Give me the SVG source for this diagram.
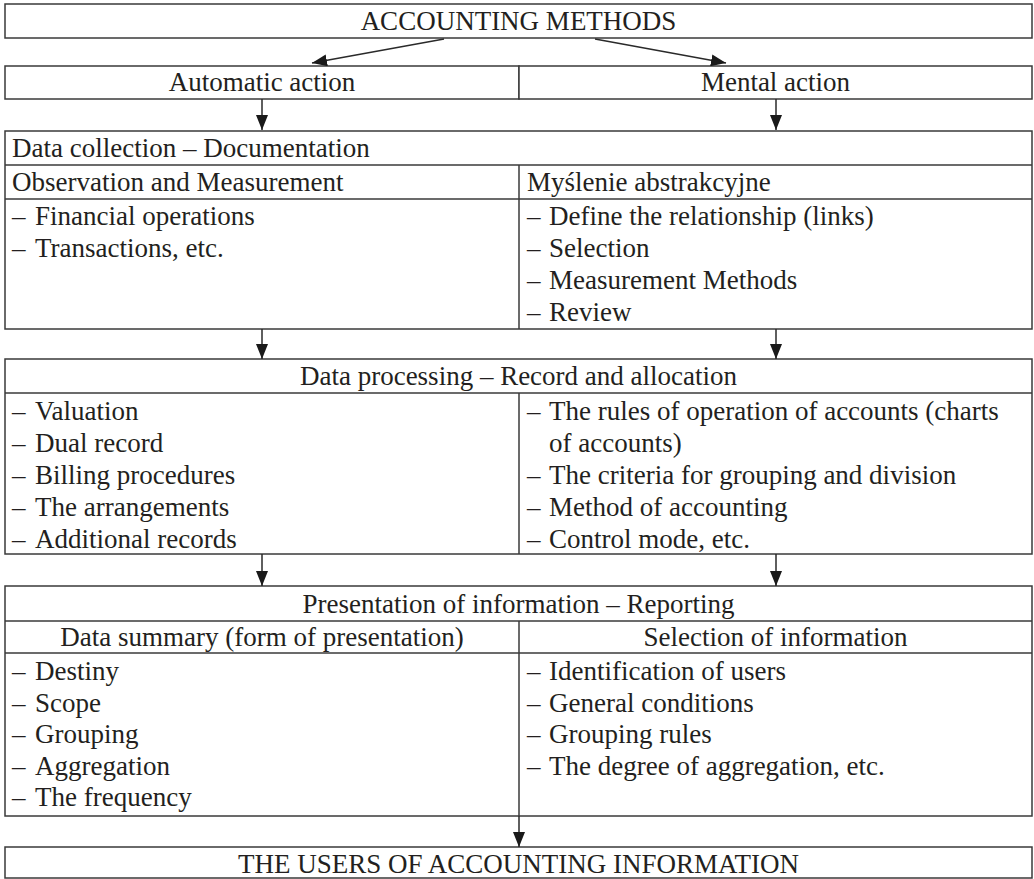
<svg xmlns="http://www.w3.org/2000/svg" width="1034" height="879" viewBox="0 0 1034 879">
<style>
.box{fill:#fff;stroke:#3a3a3a;stroke-width:1.5}
.ln{stroke:#3a3a3a;stroke-width:1.5;fill:none}
.con{stroke:#2a2a2a;stroke-width:1.5;fill:none;marker-end:url(#ah)}
text{font-family:"Liberation Serif","Times New Roman",serif;font-size:27px;fill:#231f20}
.c{text-anchor:middle}
</style>
<defs>
<marker id="ah" markerUnits="userSpaceOnUse" markerWidth="15" markerHeight="12" refX="15" refY="6" orient="auto">
<path d="M0,0 L15,6 L0,12 z" fill="#1a1a1a"/>
</marker>
</defs>
<rect width="1034" height="879" fill="#fff"/>

<g id="accounting-methods">
<rect class="box" x="5" y="4" width="1027" height="34"/>
<text class="c" x="518.5" y="30">ACCOUNTING METHODS</text>
</g>

<g id="automatic-action">
<rect class="box" x="5" y="66" width="514" height="33"/>
<text class="c" x="262" y="91">Automatic action</text>
</g>
<g id="mental-action">
<rect class="box" x="519" y="66" width="513" height="33"/>
<text class="c" x="775.5" y="91">Mental action</text>
</g>

<g id="data-collection">
<rect class="box" x="5" y="131" width="1027" height="198"/>
<line class="ln" x1="5" y1="165" x2="1032" y2="165"/>
<line class="ln" x1="5" y1="199" x2="1032" y2="199"/>
<line class="ln" x1="519" y1="165" x2="519" y2="329"/>
<text x="12" y="157">Data collection – Documentation</text>
<text x="12" y="191">Observation and Measurement</text>
<text x="527" y="191">Myślenie abstrakcyjne</text>
<text y="225"><tspan x="12">– </tspan><tspan x="35">Financial operations</tspan></text>
<text y="257"><tspan x="12">– </tspan><tspan x="35">Transactions, etc.</tspan></text>
<text y="225"><tspan x="527">– </tspan><tspan x="549">Define the relationship (links)</tspan></text>
<text y="257"><tspan x="527">– </tspan><tspan x="549">Selection</tspan></text>
<text y="289"><tspan x="527">– </tspan><tspan x="549">Measurement Methods</tspan></text>
<text y="321"><tspan x="527">– </tspan><tspan x="549">Review</tspan></text>
</g>

<g id="data-processing">
<rect class="box" x="5" y="359" width="1027" height="195"/>
<line class="ln" x1="5" y1="393" x2="1032" y2="393"/>
<line class="ln" x1="519" y1="393" x2="519" y2="554"/>
<text class="c" x="518.5" y="385">Data processing – Record and allocation</text>
<text y="420"><tspan x="12">– </tspan><tspan x="35">Valuation</tspan></text>
<text y="452"><tspan x="12">– </tspan><tspan x="35">Dual record</tspan></text>
<text y="484"><tspan x="12">– </tspan><tspan x="35">Billing procedures</tspan></text>
<text y="516"><tspan x="12">– </tspan><tspan x="35">The arrangements</tspan></text>
<text y="548"><tspan x="12">– </tspan><tspan x="35">Additional records</tspan></text>
<text y="420"><tspan x="527">– </tspan><tspan x="549">The rules of operation of accounts (charts</tspan></text>
<text x="549" y="452">of accounts)</text>
<text y="484"><tspan x="527">– </tspan><tspan x="549">The criteria for grouping and division</tspan></text>
<text y="516"><tspan x="527">– </tspan><tspan x="549">Method of accounting</tspan></text>
<text y="548"><tspan x="527">– </tspan><tspan x="549">Control mode, etc.</tspan></text>
</g>

<g id="presentation">
<rect class="box" x="5" y="586" width="1027" height="230"/>
<line class="ln" x1="5" y1="621" x2="1032" y2="621"/>
<line class="ln" x1="5" y1="653" x2="1032" y2="653"/>
<line class="ln" x1="519" y1="621" x2="519" y2="816"/>
<text class="c" x="518.5" y="613">Presentation of information – Reporting</text>
<text class="c" x="262" y="646">Data summary (form of presentation)</text>
<text class="c" x="775.5" y="646">Selection of information</text>
<text y="680"><tspan x="12">– </tspan><tspan x="35">Destiny</tspan></text>
<text y="712"><tspan x="12">– </tspan><tspan x="35">Scope</tspan></text>
<text y="743"><tspan x="12">– </tspan><tspan x="35">Grouping</tspan></text>
<text y="775"><tspan x="12">– </tspan><tspan x="35">Aggregation</tspan></text>
<text y="806"><tspan x="12">– </tspan><tspan x="35">The frequency</tspan></text>
<text y="680"><tspan x="527">– </tspan><tspan x="549">Identification of users</tspan></text>
<text y="712"><tspan x="527">– </tspan><tspan x="549">General conditions</tspan></text>
<text y="743"><tspan x="527">– </tspan><tspan x="549">Grouping rules</tspan></text>
<text y="775"><tspan x="527">– </tspan><tspan x="549">The degree of aggregation, etc.</tspan></text>
</g>

<g id="users">
<rect class="box" x="5" y="847" width="1027" height="31"/>
<text class="c" x="518.5" y="873">THE USERS OF ACCOUNTING INFORMATION</text>
</g>

<g id="connectors">
<line class="con" x1="444" y1="39" x2="312" y2="63"/>
<line class="con" x1="595" y1="39" x2="726" y2="63"/>
<line class="con" x1="262" y1="99" x2="262" y2="130"/>
<line class="con" x1="776" y1="99" x2="776" y2="130"/>
<line class="con" x1="262" y1="329" x2="262" y2="359"/>
<line class="con" x1="776" y1="329" x2="776" y2="359"/>
<line class="con" x1="262" y1="554" x2="262" y2="586"/>
<line class="con" x1="776" y1="554" x2="776" y2="586"/>
<line class="con" x1="519" y1="816" x2="519" y2="847"/>
</g>
</svg>
